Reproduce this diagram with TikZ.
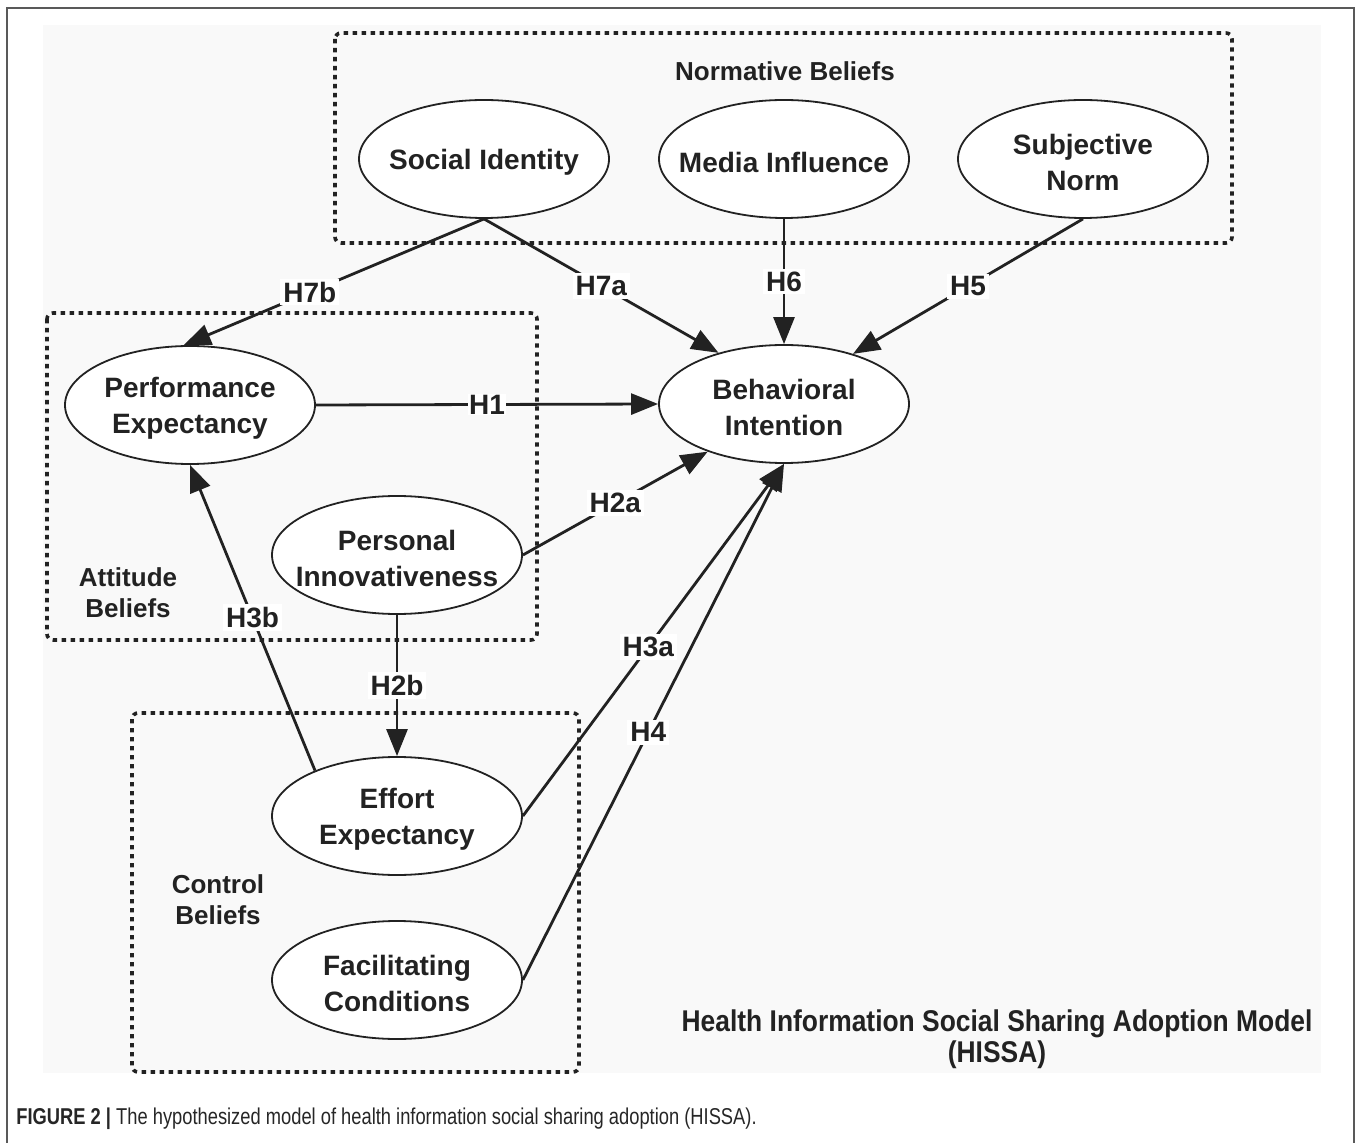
\documentclass[tikz,border=0pt]{standalone}
\usepackage{fontspec}
\setmainfont{Liberation Sans}
\newfontfamily\capfont[FakeStretch=0.80]{Liberation Sans}
\newfontfamily\titfont[FakeStretch=0.88]{Liberation Sans}
\usetikzlibrary{arrows.meta,shapes.geometric}
\definecolor{panelgray}{RGB}{249,249,249}
\definecolor{ink}{RGB}{34,34,34}
\begin{document}
\begin{tikzpicture}[x=0.5pt,y=-0.5pt,
  constructtext/.style={align=center,font=\bfseries\fontsize{14}{18}\selectfont,text=ink,inner sep=0pt,yshift=-1.5pt},
  construct/.style={ellipse,draw=ink,line width=0.9pt,fill=white,minimum width=125pt,minimum height=59pt,inner sep=0pt,
    label={[constructtext]center:{#1}}},
  beliefbox/.style={draw=ink,line width=1.8pt,dash pattern=on 2.2pt off 2.3pt,rounded corners=3pt},
  grouplabel/.style={font=\bfseries\fontsize{13}{15.5}\selectfont,align=center,text=ink},
  hypline/.style={line width=1.4pt,draw=ink,-{Triangle[length=13.5pt,width=10.5pt]}},
  hyp/.style={fill=white,inner sep=1.5pt,font=\bfseries\fontsize{14}{16}\selectfont,text=ink},
]
\useasboundingbox (0,0) rectangle (1358,1143);
% outer frame and panel
\draw[line width=1pt,draw=black!65] (7,1143) -- (7,8) -- (1354,8) -- (1354,1143);
\fill[panelgray] (43,25) rectangle (1321,1073);

% group boxes
\draw[beliefbox] (335,33) rectangle (1232,243);
\draw[beliefbox] (47,313) rectangle (537,640);
\draw[beliefbox] (132,713) rectangle (579,1072);

\node[grouplabel] (nbl) at (785,71) {Normative Beliefs};
\node[grouplabel] (abl) at (128,593) {Attitude\\Beliefs};
\node[grouplabel] (cbl) at (218,900) {Control\\Beliefs};

% constructs
\node[construct={Social Identity}] (SI) at (484,159) {};
\node[construct={Media Influence}] (MI) at (784,159) {};
\node[construct={Subjective\\Norm}] (SN) at (1083,159) {};
\node[construct={Performance\\Expectancy}] (PE) at (190,405) {};
\node[construct={Personal\\Innovativeness}] (PI) at (397,555) {};
\node[construct={Behavioral\\Intention}] (BI) at (784,404) {};
\node[construct={Effort\\Expectancy}] (EE) at (397,816) {};
\node[construct={Facilitating\\Conditions}] (FC) at (397,980) {};

% hypotheses
\draw[hypline] (SI.south) -- node[hyp,pos=0.58] {H7b} (PE.96);
\draw[hypline] (SI.south) -- node[hyp,pos=0.5] {H7a} (BI.142);
\draw[hypline] (MI.south) -- node[hyp,pos=0.5] {H6} (BI.north);
\draw[hypline] (SN.south) -- node[hyp,pos=0.5] {H5} (BI.36);
\draw[hypline] (PE.east) -- node[hyp,pos=0.5,inner sep=0.5pt] {H1} (BI.west);
\draw[hypline] (PI.east) -- node[hyp,pos=0.5] {H2a} (BI.212);
\draw[hypline] (PI.south) -- node[hyp,pos=0.5] {H2b} (EE.north);
\draw[hypline] (EE.151) -- node[hyp,pos=0.5] {H3b} (PE.south);
\draw[hypline] (EE.east) -- node[hyp,pos=0.48] {H3a} (BI.south);
\draw[hypline] (FC.east) -- node[hyp,pos=0.48] {H4} (BI.south);

% model title
\node[font=\titfont\bfseries\fontsize{15}{15.5}\selectfont,align=center,text=ink] (title) at (997,1039) {Health Information Social Sharing Adoption Model\\(HISSA)};

% caption
\node[anchor=base west,inner sep=0pt,font=\capfont\fontsize{11.45}{13}\selectfont,text=black!85] (cap) at (16,1124) {\textbf{FIGURE 2} \textbf{|} The hypothesized model of health information social sharing adoption (HISSA).};
\end{tikzpicture}
\end{document}
